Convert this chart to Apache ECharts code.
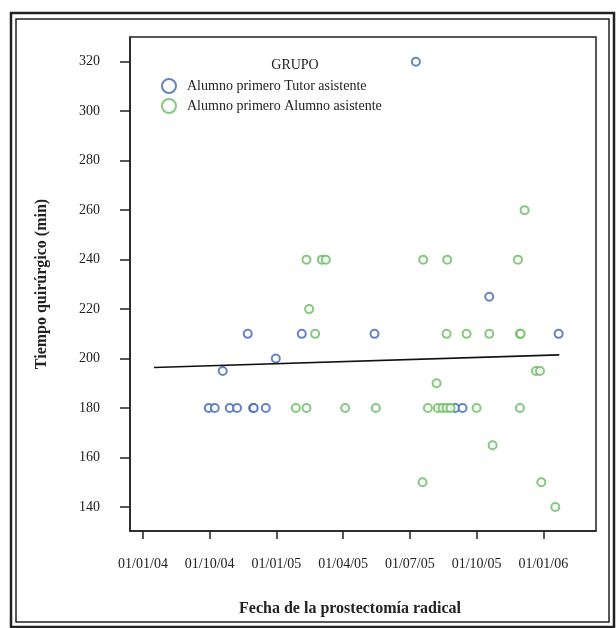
<!DOCTYPE html>
<html>
<head>
<meta charset="utf-8">
<title>Tiempo quirúrgico</title>
<script src="https://cdn.jsdelivr.net/npm/echarts@6/dist/echarts.min.js"></script>
<style>
  html, body { margin: 0; padding: 0; background: #fff; }
  #chart { width: 616px; height: 628px; }
</style>
</head>
<body>
<div id="chart"></div>
<script>
// ejes: posiciones de fecha en unidades de marca (0 = 01/01/04)
const xTickLabels = ["01/01/04", "01/10/04", "01/01/05", "01/04/05", "01/07/05", "01/10/05", "01/01/06"];
const yTicks = [140, 160, 180, 200, 220, 240, 260, 280, 300, 320];

// Alumno primero Tutor asistente
const tutorDates = [0.985, 1.075, 1.195, 1.30, 1.41, 1.57, 1.65, 1.66, 1.84, 1.99, 2.38, 3.47, 4.09, 4.68, 4.79, 5.19, 6.23];
const tutorTimes = [180, 180, 195, 180, 180, 210, 180, 180, 180, 200, 210, 210, 320, 180, 180, 225, 210];

// Alumno primero Alumno asistente
const alumnoDates = [2.29, 2.45, 2.45, 2.49, 2.58, 2.68, 2.74, 3.03, 3.49, 4.19, 4.20, 4.27, 4.40, 4.42, 4.49, 4.55, 4.61, 4.55, 4.56, 4.85, 5.0, 5.19, 5.24, 5.62, 5.65, 5.65, 5.66, 5.72, 5.89, 5.95, 5.97, 6.18];
const alumnoTimes = [180, 180, 240, 220, 210, 240, 240, 180, 180, 150, 240, 180, 190, 180, 180, 180, 180, 210, 240, 210, 180, 210, 165, 240, 180, 210, 210, 260, 195, 195, 150, 140];

// recta de ajuste (extremos)
const fitDates = [0.165, 6.24];
const fitTimes = [196.4, 201.5];

const serif = "Liberation Serif";
const blue = "#4067b0";
const green = "#67bb5f";

function zip(xs, ys) {
  return xs.map((x, i) => [x, ys[i]]);
}

const chart = echarts.init(document.getElementById("chart"));

const option = {
  backgroundColor: "#fff",
  animation: false,
  textStyle: { fontFamily: serif },
  title: {
    text: "GRUPO",
    left: 290,
    top: 53,
    textAlign: "center",
    textStyle: { fontFamily: serif, fontSize: 14, fontWeight: "normal", color: "#222" },
  },
  legend: {
    orient: "vertical",
    left: 156,
    top: 73,
    itemWidth: 14,
    itemHeight: 14,
    itemGap: 4,
    textStyle: { fontFamily: serif, fontSize: 14, color: "#222", padding: [0, 0, 0, 6] },
    data: ["Alumno primero Tutor asistente", "Alumno primero Alumno asistente"],
  },
  grid: {
    left: 130,
    right: 20,
    top: 37,
    bottom: 97,
    show: true,
    borderColor: "#222",
    borderWidth: 1.5,
  },
  xAxis: {
    type: "value",
    min: -0.195,
    max: 6.79,
    name: "Fecha de la prostectomía radical",
    nameLocation: "middle",
    nameGap: 70,
    nameTextStyle: { fontFamily: serif, fontSize: 16, fontWeight: "bold", color: "#222", padding: [0, 26, 0, 0] },
    axisLine: { show: true, onZero: false, lineStyle: { color: "#222", width: 1.5 } },
    axisTick: { show: true, length: 8, lineStyle: { color: "#222", width: 1.5 }, customValues: xTickLabels.map((_, i) => i) },
    axisLabel: {
      margin: 26,
      fontFamily: serif,
      fontSize: 14,
      color: "#222",
      customValues: xTickLabels.map((_, i) => i),
      formatter: (v) => xTickLabels[Math.round(v)],
    },
    splitLine: { show: false },
  },
  yAxis: {
    type: "value",
    min: 130.3,
    max: 330,
    name: "Tiempo quirúrgico (min)",
    nameLocation: "middle",
    nameGap: 80,
    nameTextStyle: { fontFamily: serif, fontSize: 16, fontWeight: "bold", color: "#222" },
    axisLine: { show: true, onZero: false, lineStyle: { color: "#222", width: 1.5 } },
    axisTick: { show: true, length: 10, lineStyle: { color: "#222", width: 1.5 }, customValues: yTicks },
    axisLabel: { margin: 30, fontFamily: serif, fontSize: 14, color: "#222", customValues: yTicks },
    splitLine: { show: false },
  },
  graphic: [
    { type: "rect", shape: { x: 11, y: 13, width: 603, height: 614 }, style: { fill: "none", stroke: "#222", lineWidth: 2.5 }, silent: true },
    { type: "rect", shape: { x: 16, y: 19, width: 593, height: 603 }, style: { fill: "none", stroke: "#222", lineWidth: 1.5 }, silent: true },
  ],
  series: [
    {
      name: "Alumno primero Tutor asistente",
      type: "scatter",
      symbol: "emptyCircle",
      symbolSize: 8,
      itemStyle: { color: blue, borderColor: blue, borderWidth: 1.6 },
      data: zip(tutorDates, tutorTimes),
    },
    {
      name: "Alumno primero Alumno asistente",
      type: "scatter",
      symbol: "emptyCircle",
      symbolSize: 8,
      itemStyle: { color: green, borderColor: green, borderWidth: 1.6 },
      data: zip(alumnoDates, alumnoTimes),
    },
    {
      name: "ajuste",
      type: "line",
      symbol: "none",
      lineStyle: { color: "#111", width: 1.6 },
      data: zip(fitDates, fitTimes),
    },
  ],
};

chart.setOption(option);
</script>
</body>
</html>
